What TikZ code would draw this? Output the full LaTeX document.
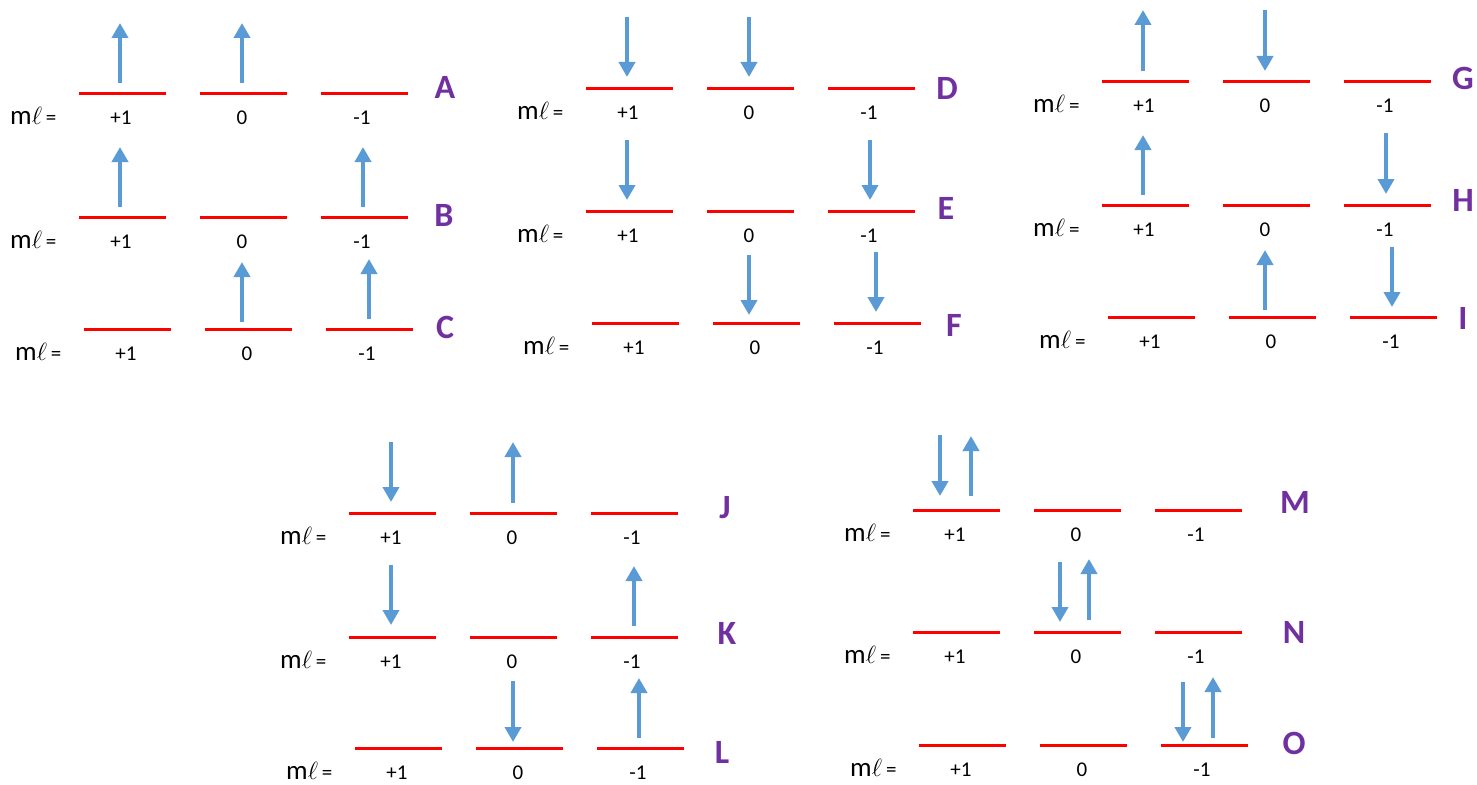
\documentclass[tikz,border=0pt]{standalone}
\usepackage{fontspec}
\setmainfont{Carlito}
\usetikzlibrary{arrows.meta}
\definecolor{spinblue}{HTML}{5B9BD5}
\definecolor{lblpurple}{HTML}{7030A0}
\definecolor{levred}{HTML}{FF0000}
\tikzset{
  level/.style={draw=levred,line width=3pt},
  spin/.style={draw=spinblue,line width=4.5pt,-{Triangle[width=16pt,length=15pt]}},
  mltext/.style={anchor=base west,inner sep=0pt},
  val/.style={anchor=base,inner sep=0pt,font=\fontsize{21}{24}\selectfont},
  letter/.style={text=lblpurple,inner sep=0pt,font=\fontsize{34}{40}\selectfont\bfseries},
}
\newcommand\mleq{{\fontsize{27}{30}\selectfont m$\ell$}\kern4pt{\fontsize{21}{24}\selectfont =}}
% #1 name, #2 x0, #3 line y, #4 letter x, #5 letter y
\newcommand\orbrow[5]{%
  \coordinate (#1a1) at (#2,#3);
  \coordinate (#1a2) at ({#2+87},#3);
  \coordinate (#1b1) at ({#2+121},#3);
  \coordinate (#1b2) at ({#2+208},#3);
  \coordinate (#1c1) at ({#2+242},#3);
  \coordinate (#1c2) at ({#2+329},#3);
  \draw[level] (#1a1) -- (#1a2);
  \draw[level] (#1b1) -- (#1b2);
  \draw[level] (#1c1) -- (#1c2);
  \node[mltext] (#1ml) at ({#2-69},{#3+31}) {\mleq};
  \node[val] (#1p) at ({#2+42},{#3+31}) {+1};
  \node[val] (#1z) at ({#2+163},{#3+31}) {0};
  \node[val] (#1m) at ({#2+283},{#3+31}) {-1};
  \node[letter] (#1lab) at (#4,#5) {#1};
}
% x, top, bottom
\newcommand\spinup[3]{\draw[spin] (#1,#3) -- (#1,#2);}
\newcommand\spindn[3]{\draw[spin] (#1,#2) -- (#1,#3);}
\begin{document}
\begin{tikzpicture}[x=1pt,y=-1pt]
\useasboundingbox[fill=white] (0,0) rectangle (1477,784);
% block 1
\orbrow{A}{79}{93}{445}{87}
\orbrow{B}{79}{217}{444}{215}
\orbrow{C}{84}{329}{445}{327}
\spinup{120}{23}{83}\spinup{242}{23}{83}
\spinup{120}{147}{207}\spinup{363}{147}{207}
\spinup{242}{262}{322}\spinup{369}{259}{319}
% block 2
\orbrow{D}{586}{88}{947}{88}
\orbrow{E}{586}{211}{946}{208}
\orbrow{F}{592}{323}{954}{325}
\spindn{627}{17}{77}\spindn{749}{17}{77}
\spindn{627}{140}{200}\spindn{870}{140}{200}
\spindn{749}{255}{315}\spindn{876}{252}{312}
% block 3
\orbrow{G}{1102}{81}{1463}{78}
\orbrow{H}{1102}{205}{1463}{200}
\orbrow{I}{1108}{317}{1463}{318}
\spinup{1143}{10}{71}\spindn{1265}{10}{71}
\spinup{1143}{135}{195}\spindn{1386}{133}{194}
\spinup{1265}{250}{310}\spindn{1392}{247}{307}
% block 4
\orbrow{J}{349}{513}{725}{508}
\orbrow{K}{349}{637}{727}{633}
\orbrow{L}{355}{748}{722}{752}
\spindn{391}{442}{502}\spinup{513}{442}{503}
\spindn{391}{565}{625}\spinup{634}{566}{626}
\spindn{513}{681}{742}\spinup{639}{678}{738}
% block 5
\orbrow{M}{913}{510}{1295}{502}
\orbrow{N}{913}{632}{1294}{632}
\orbrow{O}{919}{745}{1294}{743}
\spindn{940}{435}{496}\spinup{971}{436}{496}
\spindn{1060}{562}{622}\spinup{1089}{559}{620}
\spindn{1183}{682}{742}\spinup{1213}{677}{738}
\end{tikzpicture}
\end{document}
